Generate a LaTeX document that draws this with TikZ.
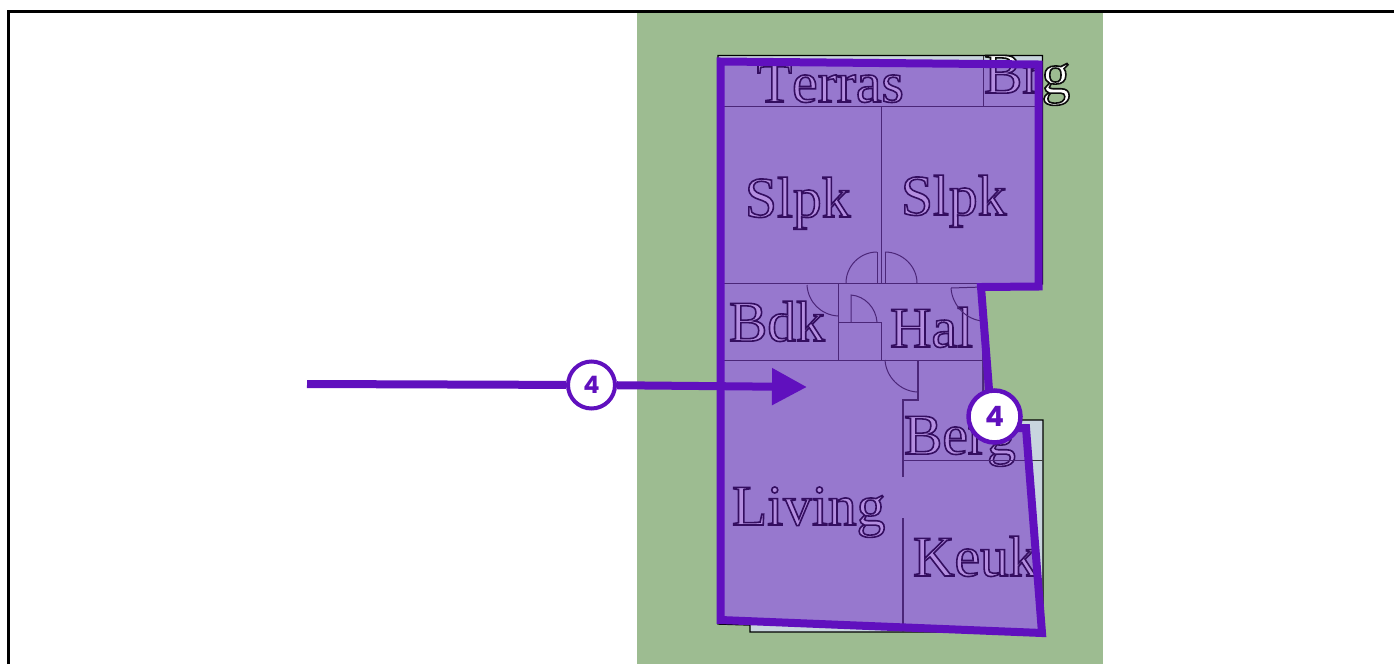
\documentclass[tikz,border=0pt]{standalone}
\usepackage{fontspec}
\setmainfont[Kerning=Off]{Liberation Serif}
\newfontfamily\numfont{Poppins}
\usetikzlibrary{arrows.meta}
\definecolor{lawn}{HTML}{9DBC91}
\definecolor{vio}{HTML}{6010BE}
\definecolor{floorc}{HTML}{C8D5DE}
\definecolor{planline}{HTML}{3A3A3A}
\newcommand{\outl}[1]{\special{pdf:code 2 Tr 1.6 w 0.05 0.05 0.05 RG}#1\special{pdf:code 0 Tr}}
\tikzset{
  planlabel/.style={anchor=base west,inner sep=0pt,outer sep=0pt,text=white,font=\fontsize{57.5}{60}\selectfont},
  wall/.style={draw=planline,line width=1pt},
  outerwall/.style={draw=black,line width=1.4pt,fill=floorc},
  zone/.style={draw=vio,line width=8pt,fill=vio,fill opacity=.47,draw opacity=1,line join=miter},
  badge/.style={circle,draw=vio,fill=white,text=vio,inner sep=0pt,font=\numfont\bfseries\fontsize{#1}{#1}\selectfont},
  flow/.style={draw=vio,line width=8pt}
}
\begin{document}
\begin{tikzpicture}[x=1pt,y=-1pt]
\useasboundingbox (0,0) rectangle (1394,664);
\fill[white] (0,0) rectangle (1394,664);
\fill[lawn] (637,12) rectangle (1103,664);
\draw[black,line width=3pt] (8.5,664) -- (8.5,11) -- (1394,11);
% plan
\draw[outerwall] (718,55.5) -- (1042.5,55.5) -- (1042.5,284) -- (983,284) -- (983,420) -- (1043,420) -- (1043,632) -- (750,632) -- (750,625) -- (718,624) -- cycle;
% text
\node[planlabel] (terras) at (757,102) {\outl{Terras}};
\node[planlabel] (brg) at (984,93) {\outl{Brg}};
\node[planlabel] (slpka) at (745,217) {\outl{Slpk}};
\node[planlabel] (slpkb) at (901,215) {\outl{Slpk}};
\node[planlabel] (bdk) at (729,341) {\outl{Bdk}};
\node[planlabel] (hal) at (890,347) {\outl{Hal}};
\node[planlabel] (berg) at (904,454) {\outl{Berg}};
\node[planlabel] (living) at (732,525) {\outl{Living}};
\node[planlabel] (keuk) at (913,576) {\outl{Keuk}};
% interior walls
\draw[wall] (718,106) -- (1042,106);
\draw[wall] (983,56) -- (983,106);
\draw[wall] (881,106) -- (881,283);
\draw[wall] (718,283) -- (983,283);
\draw[wall] (877,252) -- (877,283);
\draw[wall] (885,252) -- (885,283);
\draw[wall] (846,283) .. controls (846,266) and (860,252) .. (877,252);
\draw[wall] (885,252) .. controls (902,252) and (917,266) .. (917,283);
\draw[wall] (838,283) -- (838,360);
\draw[wall] (718,360) -- (983,360);
\draw[wall] (838,322) -- (881,322) -- (881,360);
\draw[wall] (807,285) .. controls (808,302) and (821,315) .. (838,316);
\draw[wall] (851,322) -- (851,295) .. controls (865,296) and (876,308) .. (877,322);
\draw[wall] (951,288) -- (983,287);
\draw[wall] (951,288) .. controls (952,305) and (966,320) .. (983,321);
\draw[wall,line width=1.5pt] (918,360) -- (918,400) -- (903,400) -- (903,477);
\draw[wall] (885,360) .. controls (886,377) and (900,391) .. (917,392);
\draw[wall] (903,460) -- (1043,460);
\draw[wall,line width=1.5pt] (903,518) -- (903,632);
% zone
\path[zone] (720.5,61.5) -- (1038.5,64.5) -- (1038.5,286.5) -- (981,287) -- (992,428) -- (1026,428) -- (1042,633) -- (720.5,620) -- cycle;
% badges and arrow
\coordinate (flowstart) at (307,384);
\coordinate (flowtip) at (807,387);
\node[badge=24,minimum size=47pt,line width=4pt] (badgea) at (591.5,385) {4};
\node[badge=28,minimum size=52pt,line width=4.5pt] (badgeb) at (994.5,416.5) {4};
\draw[flow] (flowstart) -- (badgea);
\draw[flow,-{Triangle[length=35pt,width=35pt]}] (badgea) -- (flowtip);
\end{tikzpicture}
\end{document}
